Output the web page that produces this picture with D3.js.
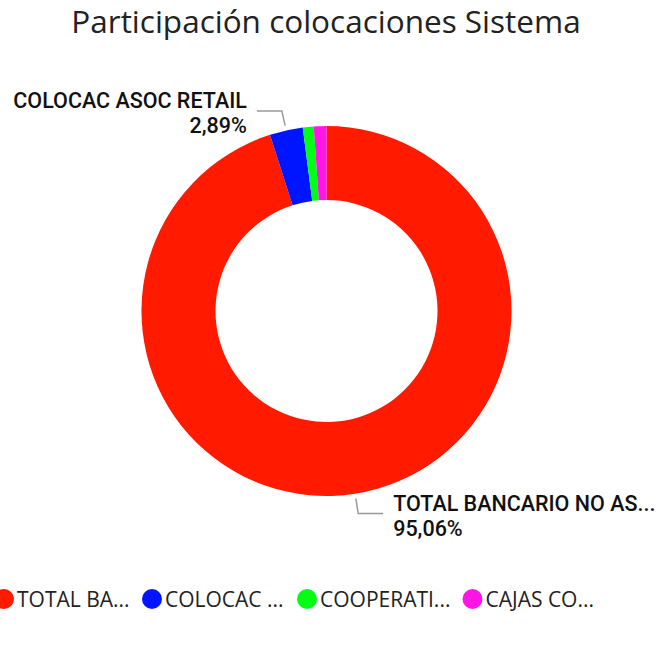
<!DOCTYPE html>
<html><head><meta charset="utf-8">
<script src="https://cdn.jsdelivr.net/npm/d3@7"></script>
<style>body{margin:0;background:#fff}</style>
</head><body>
<svg id="c" width="661" height="653"></svg>
<script>
const categories = ["TOTAL BANCARIO NO ASOCIADO", "COLOCAC ASOC RETAIL", "COOPERATIVAS", "CAJAS COMPENSACION"];
const values = [95.06, 2.89, 0.95, 1.10];
const colors = ["#FF1A00", "#0015FF", "#00FF15", "#FF15E5"];
const legendLabels = ["TOTAL BA...", "COLOCAC ...", "COOPERATI...", "CAJAS CO..."];
const sliceLabels = [{i:0, name:"TOTAL BANCARIO NO AS...", side:1}, {i:1, name:"COLOCAC ASOC RETAIL", side:-1}];

const svg = d3.select("#c");
const cx = 326.5, cy = 311, R = 185, r0 = 111;
const fmt = v => d3.format(".2f")(v).replace(".", ",") + "%";

svg.append("text").attr("x", 326).attr("y", 33).attr("text-anchor", "middle")
  .style("font-family", "'Open Sans', sans-serif").style("font-size", "31.5px").attr("fill", "#222")
  .text("Participación colocaciones Sistema");

const pie = d3.pie().sort(null).value(d => d)(values);
const arc = d3.arc().innerRadius(r0).outerRadius(R);
const g = svg.append("g").attr("transform", `translate(${cx},${cy})`);
g.selectAll("path").data(pie).join("path").attr("d", arc).attr("fill", (d, i) => colors[i]);

const a1 = d3.arc().innerRadius(190).outerRadius(190);
const a2 = d3.arc().innerRadius(205).outerRadius(205);
sliceLabels.forEach(s => {
  const d = pie[s.i];
  const p1 = a1.centroid(d), p2 = a2.centroid(d);
  const p3 = [p2[0] + s.side * 25, p2[1]];
  g.append("polyline").attr("points", [p1, p2, p3].map(p => p.join(",")).join(" "))
    .attr("fill", "none").attr("stroke", "#999").attr("stroke-width", 1.5);
  const tx = p3[0] + s.side * 10;
  const anchor = s.side > 0 ? "start" : "end";
  const t = g.append("text").attr("text-anchor", anchor)
    .style("font-family", "Roboto, sans-serif").style("font-weight", 500).style("font-size", "21.5px").attr("fill", "#111");
  t.append("tspan").attr("x", tx).attr("y", p3[1] - 3).text(s.name);
  t.append("tspan").attr("x", tx).attr("y", p3[1] + 22).text(fmt(values[s.i]));
});

const legX = [4, 152, 307, 472.5];
const lg = svg.append("g");
legendLabels.forEach((l, i) => {
  lg.append("circle").attr("cx", legX[i]).attr("cy", 599).attr("r", 10).attr("fill", colors[i]);
  lg.append("text").attr("x", legX[i] + 13).attr("y", 607)
    .style("font-family", "'Open Sans', sans-serif").style("font-size", "21px").attr("fill", "#222").text(l);
});
</script>
</body></html>
